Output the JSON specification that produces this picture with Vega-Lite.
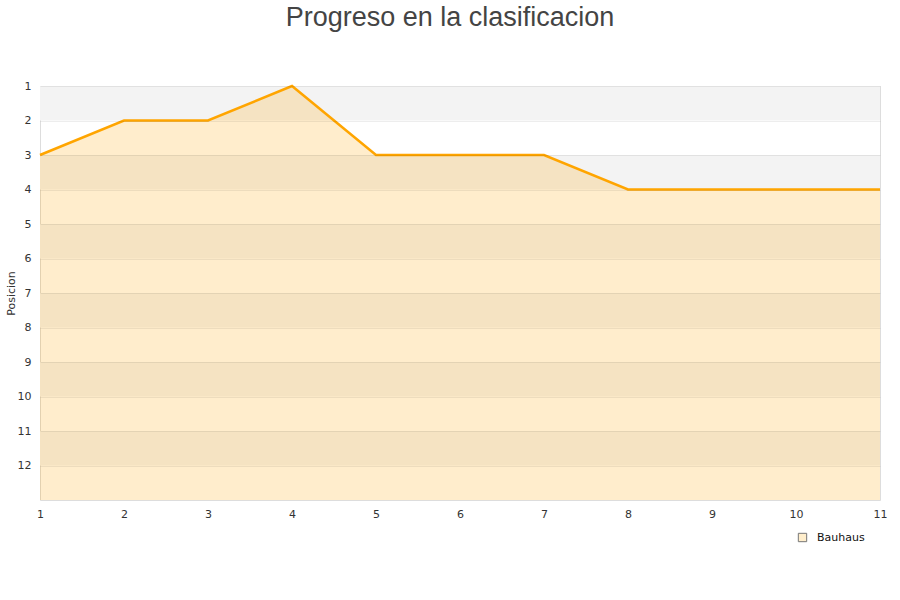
{
  "$schema": "https://vega.github.io/schema/vega-lite/v6.json",
  "autosize": "none",
  "width": 840,
  "height": 414,
  "padding": {"left": 40, "top": 86, "right": 20, "bottom": 100},
  "background": "white",
  "title": {
    "text": "Progreso en la clasificacion",
    "font": "Liberation Sans",
    "fontSize": 27,
    "fontWeight": "normal",
    "color": "#444444",
    "anchor": "middle",
    "frame": "group",
    "baseline": "alphabetic",
    "offset": 27,
    "dx": -10
  },
  "config": {
    "view": {"stroke": "#dddddd", "strokeWidth": 1},
    "axis": {
      "labelFont": "DejaVu Sans",
      "labelFontSize": 11,
      "labelColor": "#333333",
      "titleFont": "DejaVu Sans",
      "titleFontSize": 11,
      "titleFontWeight": "normal",
      "titleColor": "#333333"
    }
  },
  "datasets": {
    "bands": [
      {"desde": 1, "hasta": 2},
      {"desde": 3, "hasta": 4},
      {"desde": 5, "hasta": 6},
      {"desde": 7, "hasta": 8},
      {"desde": 9, "hasta": 10},
      {"desde": 11, "hasta": 12}
    ],
    "progreso": [
      {"jornada": 1, "posicion": 3, "equipo": "Bauhaus"},
      {"jornada": 2, "posicion": 2, "equipo": "Bauhaus"},
      {"jornada": 3, "posicion": 2, "equipo": "Bauhaus"},
      {"jornada": 4, "posicion": 1, "equipo": "Bauhaus"},
      {"jornada": 5, "posicion": 3, "equipo": "Bauhaus"},
      {"jornada": 6, "posicion": 3, "equipo": "Bauhaus"},
      {"jornada": 7, "posicion": 3, "equipo": "Bauhaus"},
      {"jornada": 8, "posicion": 4, "equipo": "Bauhaus"},
      {"jornada": 9, "posicion": 4, "equipo": "Bauhaus"},
      {"jornada": 10, "posicion": 4, "equipo": "Bauhaus"},
      {"jornada": 11, "posicion": 4, "equipo": "Bauhaus"}
    ]
  },
  "layer": [
    {
      "data": {"name": "bands"},
      "mark": {"type": "rect", "fill": "#f3f3f3"},
      "encoding": {
        "y": {
          "field": "desde", "type": "quantitative",
          "scale": {"domain": [1, 13], "reverse": true, "nice": false, "zero": false},
          "axis": {"title": "Posicion", "values": [1,2,3,4,5,6,7,8,9,10,11,12], "tickCount": 14, "format": "d", "labelOverlap": false, "grid": true, "gridColor": "#000000", "gridOpacity": 0.07, "zindex": 1, "ticks": false, "domain": false, "labelPadding": 9, "titlePadding": 1}
        },
        "y2": {"field": "hasta"}
      }
    },
    {
      "data": {"name": "progreso"},
      "mark": {"type": "area", "fill": "#ffa500", "fillOpacity": 0.2, "line": false},
      "encoding": {
        "x": {
          "field": "jornada", "type": "quantitative",
          "scale": {"domain": [1, 11], "nice": false},
          "axis": {"title": null, "values": [1,2,3,4,5,6,7,8,9,10,11], "tickCount": 12, "format": "d", "labelOverlap": false, "grid": false, "ticks": false, "domain": false, "labelPadding": 8, "labelFlush": false}
        },
        "y": {"field": "posicion", "type": "quantitative"},
        "y2": {"datum": 13}
      }
    },
    {
      "data": {"name": "progreso"},
      "mark": {"type": "line", "color": "#ffa500", "strokeWidth": 2.5},
      "encoding": {
        "x": {"field": "jornada", "type": "quantitative"},
        "y": {"field": "posicion", "type": "quantitative"}
      }
    },
    {
      "data": {"name": "progreso"},
      "mark": {"type": "point", "filled": true, "opacity": 0, "shape": "square"},
      "encoding": {
        "x": {"field": "jornada", "type": "quantitative"},
        "y": {"field": "posicion", "type": "quantitative"},
        "fill": {
          "field": "equipo", "type": "nominal",
          "scale": {"range": ["#ffeecc"]},
          "legend": {
            "title": null,
            "orient": "none",
            "legendX": 757,
            "legendY": 446,
            "symbolType": "square",
            "symbolSize": 70,
            "symbolOpacity": 1,
            "symbolStrokeColor": "#777777",
            "symbolStrokeWidth": 1,
            "labelOffset": 9,
            "labelFont": "DejaVu Sans",
            "labelFontSize": 11,
            "labelColor": "#111111"
          }
        }
      }
    }
  ]
}
